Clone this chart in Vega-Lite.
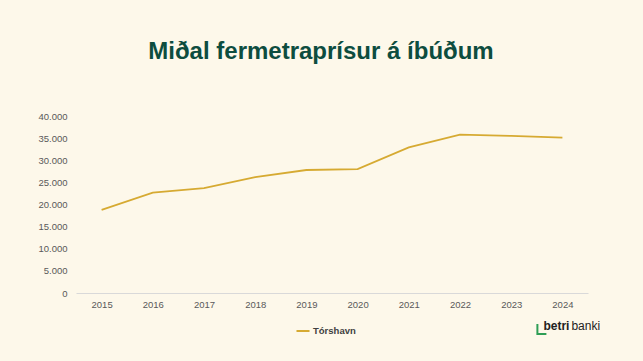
{
  "$schema": "https://vega.github.io/schema/vega-lite/v6.json",
  "autosize": {"type": "none"},
  "padding": {"left": 76, "top": 116, "right": 55, "bottom": 68},
  "width": 512,
  "height": 177,
  "background": "#FDF8EA",
  "title": {
    "text": "Miðal fermetraprísur á íbúðum",
    "font": "Liberation Sans",
    "fontSize": 24,
    "fontWeight": "bold",
    "color": "#0D4D3F",
    "anchor": "middle",
    "dx": -11,
    "baseline": "alphabetic",
    "offset": 28
  },
  "config": {
    "view": {"stroke": null},
    "locale": {"number": {"decimal": ",", "thousands": ".", "grouping": [3], "currency": ["", " kr"]}},
    "font": "Liberation Sans"
  },
  "data": {
    "values": [
      {"ar": "2015", "virdi": 18800, "stad": "Tórshavn"},
      {"ar": "2016", "virdi": 22700, "stad": "Tórshavn"},
      {"ar": "2017", "virdi": 23700, "stad": "Tórshavn"},
      {"ar": "2018", "virdi": 26200, "stad": "Tórshavn"},
      {"ar": "2019", "virdi": 27800, "stad": "Tórshavn"},
      {"ar": "2020", "virdi": 28000, "stad": "Tórshavn"},
      {"ar": "2021", "virdi": 32900, "stad": "Tórshavn"},
      {"ar": "2022", "virdi": 35800, "stad": "Tórshavn"},
      {"ar": "2023", "virdi": 35500, "stad": "Tórshavn"},
      {"ar": "2024", "virdi": 35100, "stad": "Tórshavn"}
    ]
  },
  "layer": [
    {
      "mark": {"type": "line", "strokeWidth": 1.8},
      "encoding": {
        "x": {
          "field": "ar", "type": "ordinal",
          "scale": {"type": "point", "padding": 0.5},
          "axis": {
            "title": null, "labelAngle": 0, "ticks": false,
            "domainColor": "#D9D9D9", "domainWidth": 1,
            "labelColor": "#595959", "labelFontSize": 9.5, "labelPadding": 6
          }
        },
        "y": {
          "field": "virdi", "type": "quantitative",
          "scale": {"domain": [0, 40000]},
          "axis": {
            "title": null, "domain": false, "ticks": false, "grid": false,
            "tickCount": 8, "format": ",.0f",
            "labelColor": "#595959", "labelFontSize": 9.5, "labelPadding": 9
          }
        },
        "color": {
          "field": "stad", "type": "nominal",
          "scale": {"range": ["#D6AA32"]},
          "legend": {
            "title": null, "orient": "none", "legendX": 219, "legendY": 207,
            "symbolType": "stroke", "symbolSize": 170, "symbolStrokeWidth": 2,
            "labelFontSize": 9.5, "labelFontWeight": "bold", "labelColor": "#404040",
            "labelOffset": 2
          }
        }
      }
    },
    {
      "data": {"values": [{"t": "betri"}]},
      "mark": {"type": "text", "text": "betri", "font": "Liberation Sans", "fontSize": 12, "fontWeight": "bold", "color": "#222222", "align": "left", "baseline": "alphabetic", "dx": -19, "dy": 37},
      "encoding": {"x": {"datum": "2024"}, "y": {"datum": 0}}
    },
    {
      "data": {"values": [{"t": "banki"}]},
      "mark": {"type": "text", "text": "banki", "font": "Liberation Sans", "fontSize": 12, "color": "#222222", "align": "left", "baseline": "alphabetic", "dx": 9, "dy": 37},
      "encoding": {"x": {"datum": "2024"}, "y": {"datum": 0}}
    },
    {
      "data": {"values": [{"t": "logo"}]},
      "mark": {"type": "point", "shape": "M-1,-1L-1,1L0.8,1", "size": 100, "filled": false, "stroke": "#2E9E55", "strokeWidth": 2, "opacity": 1, "xOffset": -20, "yOffset": 36},
      "encoding": {"x": {"datum": "2024"}, "y": {"datum": 0}}
    }
  ]
}
